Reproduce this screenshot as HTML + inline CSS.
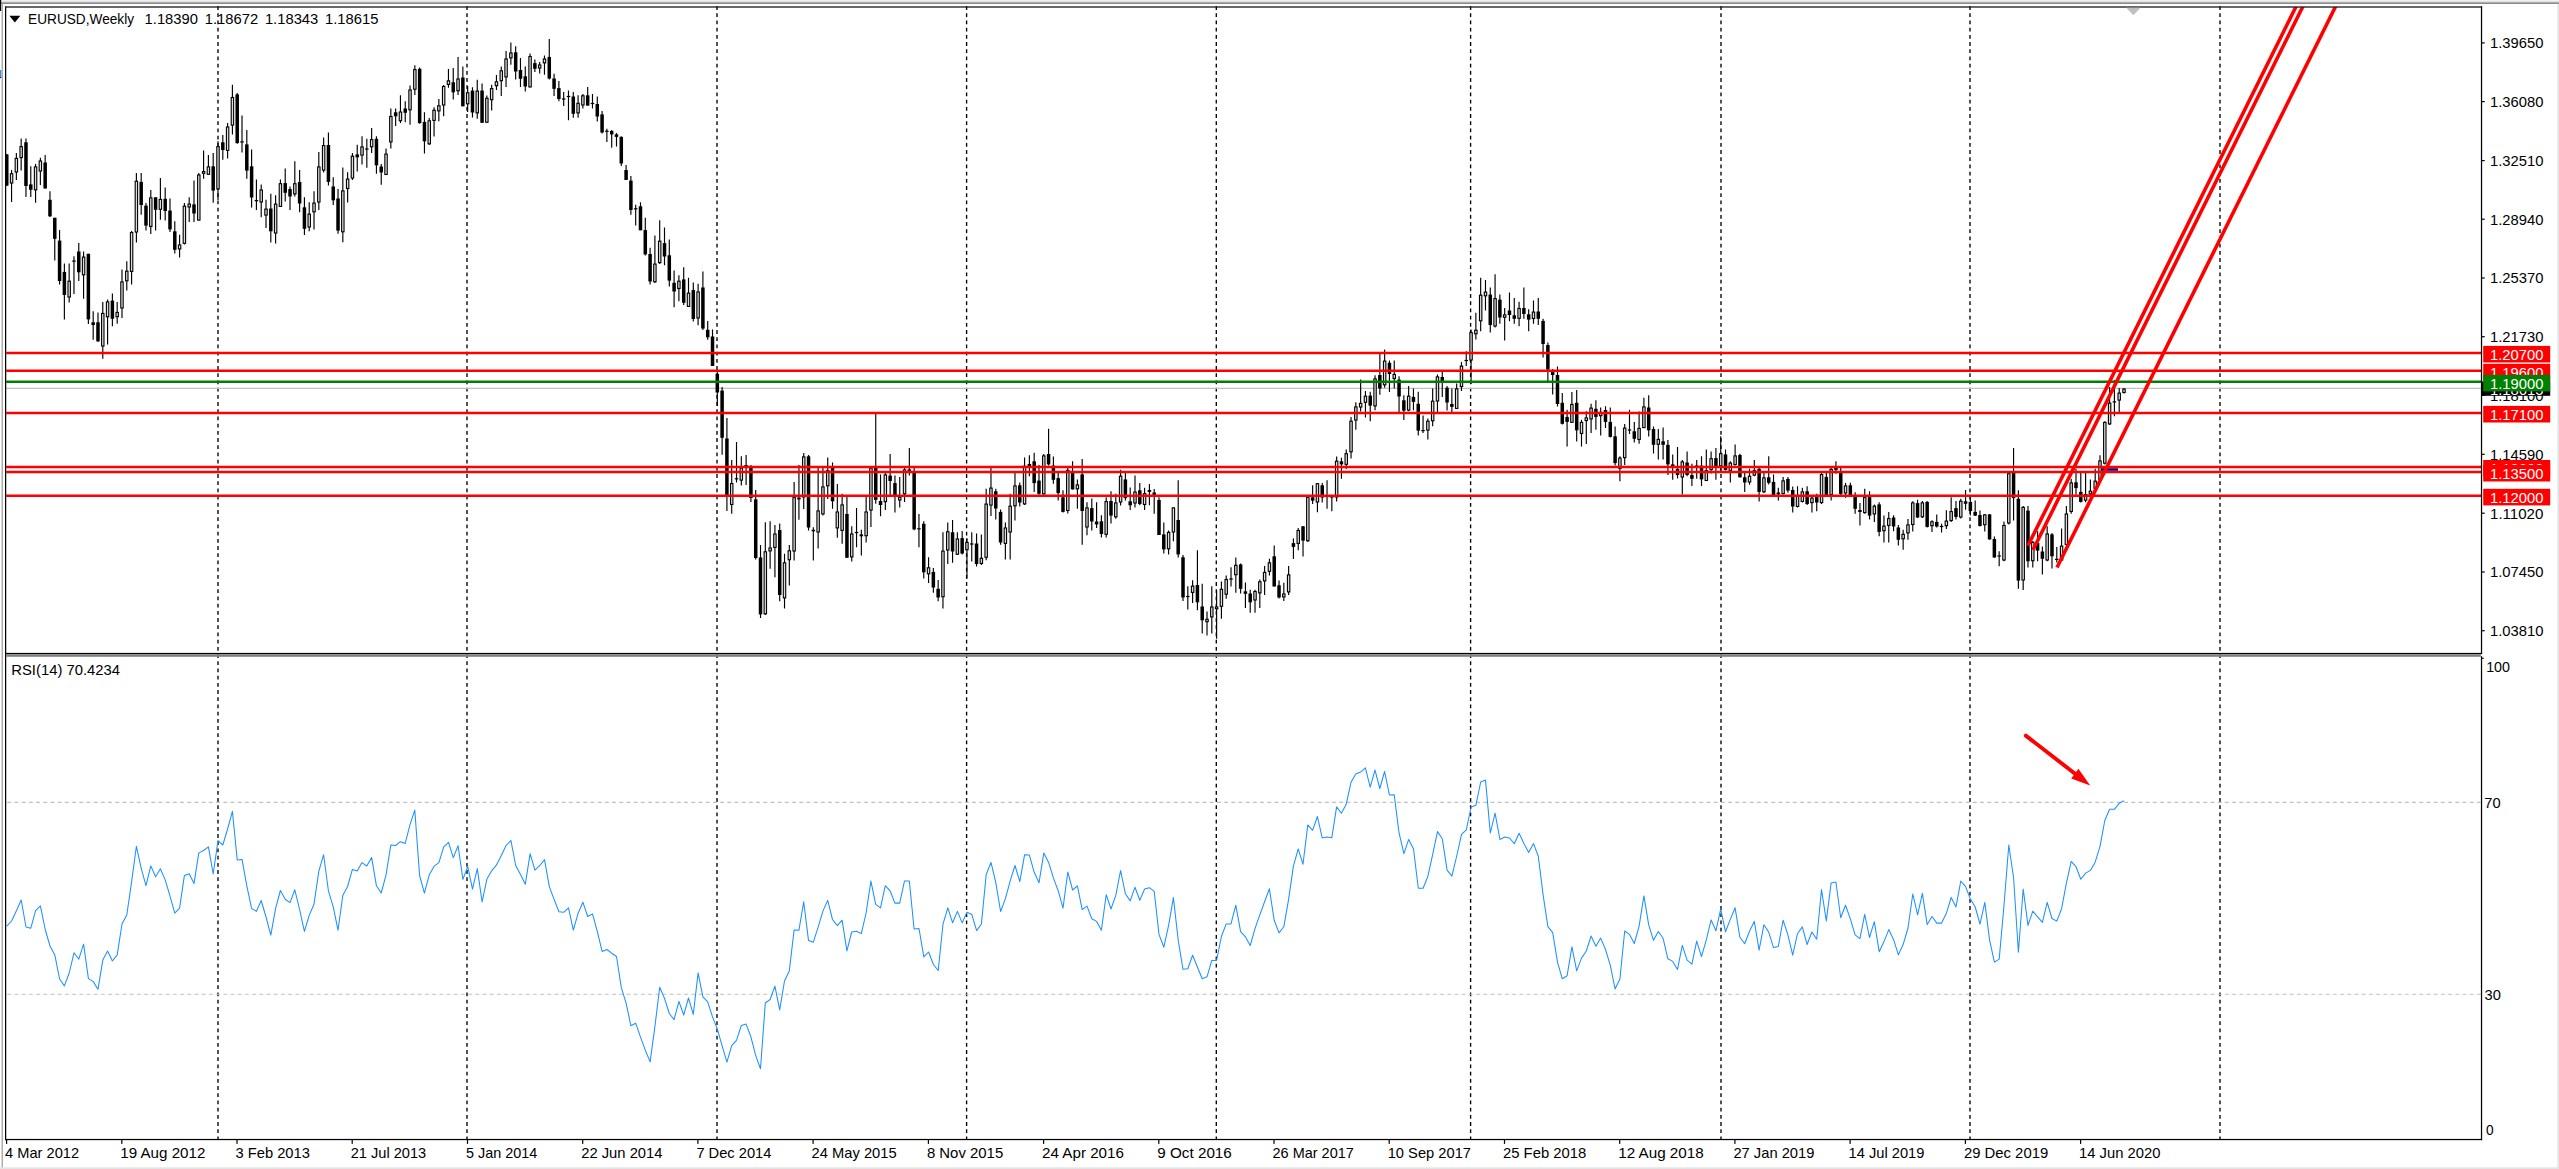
<!DOCTYPE html>
<html><head><meta charset="utf-8"><title>EURUSD Weekly</title>
<style>html,body{margin:0;padding:0;background:#fff;overflow:hidden}body{width:2559px;height:1169px;position:relative;font-family:"Liberation Sans",sans-serif}</style>
</head><body>
<svg width="2559" height="1169" viewBox="0 0 2559 1169" style="position:absolute;left:0;top:0;display:block">
<rect x="0" y="0" width="2559" height="1169" fill="#ffffff"/>
<rect x="0" y="0" width="2559" height="1.7" fill="#f0f0f0"/>
<rect x="0" y="1.7" width="2559" height="1" fill="#b4b4b4"/>
<rect x="0" y="2.7" width="2559" height="1.1" fill="#6e6e6e"/>
<rect x="0" y="0" width="1.2" height="11" fill="#000"/>
<rect x="1.6" y="3.8" width="1.2" height="1165" fill="#9a9a9a"/>
<rect x="0" y="1167.3" width="2559" height="1.7" fill="#e4e4e4"/>
<rect x="2557.3" y="3.8" width="1.7" height="1165.2" fill="#e4e4e4"/>
<line x1="218" y1="6.1" x2="218" y2="1139.0" stroke="#000" stroke-width="1.35" stroke-dasharray="3.8 3.4"/>
<line x1="467" y1="6.1" x2="467" y2="1139.0" stroke="#000" stroke-width="1.35" stroke-dasharray="3.8 3.4"/>
<line x1="717" y1="6.1" x2="717" y2="1139.0" stroke="#000" stroke-width="1.35" stroke-dasharray="3.8 3.4"/>
<line x1="966.6" y1="6.1" x2="966.6" y2="1139.0" stroke="#000" stroke-width="1.35" stroke-dasharray="3.8 3.4"/>
<line x1="1216.3" y1="6.1" x2="1216.3" y2="1139.0" stroke="#000" stroke-width="1.35" stroke-dasharray="3.8 3.4"/>
<line x1="1470.6" y1="6.1" x2="1470.6" y2="1139.0" stroke="#000" stroke-width="1.35" stroke-dasharray="3.8 3.4"/>
<line x1="1721" y1="6.1" x2="1721" y2="1139.0" stroke="#000" stroke-width="1.35" stroke-dasharray="3.8 3.4"/>
<line x1="1970" y1="6.1" x2="1970" y2="1139.0" stroke="#000" stroke-width="1.35" stroke-dasharray="3.8 3.4"/>
<line x1="2220" y1="6.1" x2="2220" y2="1139.0" stroke="#000" stroke-width="1.35" stroke-dasharray="3.8 3.4"/>
<line x1="7.3" y1="802.4" x2="2480.5" y2="802.4" stroke="#c0c0c0" stroke-width="1.1" stroke-dasharray="3.9 3.3"/>
<line x1="7.3" y1="994.3" x2="2480.5" y2="994.3" stroke="#c0c0c0" stroke-width="1.1" stroke-dasharray="3.9 3.3"/>
<line x1="6.199999999999999" y1="388.4" x2="2481.5" y2="388.4" stroke="#c0c0c0" stroke-width="1.2"/>
<path d="M6.76 154.0V186.0M11.56 170.0V201.9M16.36 153.1V180.0M21.16 138.5V170.6M25.96 138.5V196.9M30.77 166.3V196.9M35.57 164.0V202.8M40.37 157.8V185.0M45.17 155.0V188.5M49.97 191.3V216.9M54.77 217.8V260.6M59.57 230.0V284.4M64.37 263.5V319.4M69.17 263.5V302.5M73.97 256.3V294.0M78.78 243.1V281.0M83.58 251.5V298.8M88.38 253.8V324.0M93.18 311.3V339.8M97.98 312.5V341.9M102.78 301.9V358.8M107.58 299.4V344.4M112.38 293.5V326.3M117.18 301.9V323.8M121.98 269.4V318.1M126.79 261.3V290.6M131.59 231.0V284.4M136.39 173.1V242.5M141.19 173.1V214.8M145.99 203.1V230.6M150.79 190.0V234.0M155.59 197.3V230.6M160.39 178.1V219.8M165.19 187.5V220.6M169.99 198.5V231.9M174.79 221.3V253.5M179.60 234.8V257.5M184.40 203.1V244.4M189.20 197.3V221.9M194.00 180.6V221.9M198.80 173.1V220.6M203.60 150.6V178.8M208.40 155.0V175.0M213.20 153.1V202.8M218.00 141.3V200.0M222.81 135.0V159.8M227.61 123.1V158.5M232.41 84.8V134.4M237.21 93.1V143.8M242.01 115.6V152.5M246.81 130.0V178.8M251.61 149.4V207.5M256.41 179.4V210.0M261.21 184.4V217.3M266.01 199.8V228.1M270.81 193.8V242.5M275.62 195.3V243.5M280.42 179.4V207.0M285.22 168.5V201.5M290.02 186.5V210.0M294.82 161.3V196.5M299.62 170.0V212.3M304.42 197.3V235.0M309.22 202.3V231.3M314.02 191.3V229.4M318.82 151.9V210.0M323.63 137.5V172.5M328.43 132.5V185.6M333.23 177.3V205.0M338.03 189.0V233.8M342.83 167.5V242.3M347.63 172.3V202.5M352.43 153.1V180.0M357.23 144.8V171.5M362.03 136.3V164.4M366.83 138.8V167.8M371.64 128.1V153.1M376.44 136.3V173.8M381.24 164.0V184.8M386.04 148.5V175.0M390.84 108.5V148.5M395.64 108.5V126.0M400.44 95.3V123.1M405.24 101.3V122.3M410.04 85.6V124.8M414.85 65.3V95.0M419.65 67.5V123.8M424.45 112.3V153.5M429.25 118.1V145.0M434.05 107.3V136.5M438.85 99.0V121.3M443.65 85.0V116.3M448.45 69.1V87.8M453.25 67.9V99.4M458.05 56.9V95.0M462.86 66.5V106.3M467.66 86.0V111.9M472.46 87.3V117.5M477.26 79.8V118.8M482.06 83.5V123.1M486.86 95.6V123.1M491.66 84.8V110.6M496.46 75.0V90.0M501.26 66.5V96.0M506.06 51.0V86.9M510.87 42.5V64.8M515.67 46.3V79.4M520.47 58.1V86.9M525.27 66.5V91.5M530.07 53.5V87.5M534.87 59.4V71.9M539.67 61.9V73.5M544.47 55.6V74.8M549.27 39.0V79.4M554.07 73.8V96.0M558.88 81.0V101.3M563.68 91.9V106.0M568.48 90.6V120.3M573.28 91.9V117.8M578.08 95.3V117.8M582.88 94.0V108.5M587.68 86.9V105.6M592.48 94.0V108.5M597.28 96.5V121.5M602.08 111.0V133.5M606.88 128.8V141.9M611.69 130.0V147.8M616.49 133.1V146.5M621.29 136.3V166.0M626.09 165.0V180.0M630.89 176.0V214.8M635.69 204.8V225.6M640.49 202.3V230.3M645.29 217.8V255.6M650.09 247.8V284.4M654.89 235.6V283.1M659.70 220.3V264.0M664.50 227.5V265.3M669.30 239.4V286.5M674.10 270.6V307.3M678.90 275.3V301.3M683.70 267.3V305.0M688.50 277.8V306.9M693.30 282.5V321.5M698.10 283.8V325.3M702.90 271.5V330.0M707.71 321.0V339.8M712.51 329.4V366.0M717.31 372.0V406.0M722.11 386.9V454.8M726.91 418.0V511.0M731.71 460.0V513.8M736.51 441.9V482.5M741.31 456.3V485.6M746.11 455.0V485.0M750.91 465.0V501.9M755.72 490.0V559.4M760.52 545.0V618.0M765.32 522.3V615.0M770.12 521.3V568.8M774.92 525.0V577.3M779.72 523.5V601.3M784.52 553.8V608.5M789.32 545.0V585.6M794.12 481.9V560.6M798.93 465.0V519.8M803.73 453.1V509.0M808.53 455.0V530.6M813.33 527.3V560.6M818.13 467.5V548.5M822.93 467.5V515.6M827.73 457.5V499.0M832.53 462.5V508.8M837.33 484.0V537.8M842.13 493.8V543.8M846.94 496.9V557.8M851.74 526.3V561.5M856.54 508.1V547.3M861.34 529.8V555.6M866.14 496.3V542.5M870.94 467.5V526.9M875.74 413.8V503.8M880.54 474.4V516.3M885.34 473.1V510.0M890.14 454.0V495.0M894.95 475.6V512.5M899.75 476.9V507.5M904.55 468.1V501.9M909.35 448.1V475.6M914.15 468.1V530.3M918.95 514.0V547.3M923.75 521.3V578.5M928.55 557.3V583.1M933.35 568.1V592.8M938.15 580.0V601.3M942.96 532.3V608.5M947.76 522.5V564.0M952.56 520.0V562.8M957.36 532.3V555.0M962.16 531.0V554.4M966.96 538.1V578.5M971.76 532.3V561.5M976.56 533.5V566.5M981.36 534.4V565.0M986.16 488.8V560.3M990.97 468.1V516.0M995.77 488.8V519.4M1000.57 509.4V544.8M1005.37 522.5V559.4M1010.17 493.8V559.4M1014.97 473.1V520.6M1019.77 482.5V506.5M1024.57 457.5V505.0M1029.37 455.3V476.3M1034.17 452.8V491.9M1038.98 465.0V494.8M1043.78 454.0V494.4M1048.58 428.8V465.6M1053.38 456.5V483.8M1058.18 473.1V500.6M1062.98 490.3V512.5M1067.78 468.1V513.5M1072.58 461.3V489.4M1077.38 479.4V508.8M1082.18 459.0V544.8M1086.99 502.3V535.3M1091.79 498.5V530.6M1096.59 502.3V528.1M1101.39 515.3V537.5M1106.19 497.3V537.5M1110.99 491.3V523.5M1115.79 493.8V518.8M1120.59 469.8V505.6M1125.39 473.1V500.6M1130.19 487.5V510.0M1135.00 475.6V507.5M1139.80 483.1V505.3M1144.60 487.8V510.0M1149.40 484.0V505.3M1154.20 489.0V513.8M1159.00 497.3V535.0M1163.80 522.5V553.5M1168.60 530.6V554.4M1173.40 507.3V541.3M1178.20 480.3V557.5M1183.01 555.0V601.0M1187.81 586.3V609.4M1192.61 580.3V603.0M1197.41 550.3V610.3M1202.21 583.8V633.5M1207.01 611.5V635.6M1211.81 586.3V633.5M1216.61 590.0V638.8M1221.41 581.5V618.8M1226.21 575.6V598.8M1231.02 567.3V586.5M1235.82 557.5V592.8M1240.62 563.5V593.5M1245.42 582.5V608.0M1250.22 589.8V612.8M1255.02 589.8V612.8M1259.82 579.4V608.0M1264.62 566.0V595.0M1269.42 558.8V575.6M1274.22 545.6V586.5M1279.03 580.6V598.5M1283.83 582.8V601.0M1288.63 566.0V595.0M1293.43 538.5V559.0M1298.23 528.0V550.3M1303.03 526.0V556.5M1307.83 496.0V542.0M1312.63 485.3V504.0M1317.43 483.1V512.3M1322.23 483.1V502.5M1327.04 480.3V508.8M1331.84 496.0V511.3M1336.64 456.5V501.5M1341.44 457.8V478.8M1346.24 449.4V469.0M1351.04 416.9V458.5M1355.84 402.3V429.8M1360.64 379.6V411.5M1365.44 390.9V417.5M1370.24 391.8V421.3M1375.05 375.3V410.3M1379.85 353.0V394.8M1384.65 349.6V387.8M1389.45 360.5V392.0M1394.25 360.5V388.4M1399.05 376.3V411.9M1403.85 395.3V420.0M1408.65 385.9V411.3M1413.45 388.4V410.3M1418.25 391.8V435.6M1423.06 415.6V433.1M1427.86 418.5V439.4M1432.66 388.4V426.3M1437.46 374.6V411.9M1442.26 372.0V397.0M1447.06 385.9V410.6M1451.86 388.4V411.9M1456.66 383.4V409.0M1461.46 362.0V391.0M1466.26 351.3V366.0M1471.07 329.6V384.0M1475.87 312.8V339.6M1480.67 277.8V331.3M1485.47 280.0V310.5M1490.27 287.5V332.5M1495.07 274.3V327.5M1499.87 294.6V323.8M1504.67 308.0V340.5M1509.47 292.5V321.3M1514.27 298.0V323.8M1519.08 301.8V326.3M1523.88 287.5V318.8M1528.68 309.3V331.3M1533.48 300.5V323.8M1538.28 298.0V325.0M1543.08 318.8V357.5M1547.88 342.5V380.9M1552.68 369.0V394.6M1557.48 366.5V406.5M1562.28 393.1V424.4M1567.09 409.8V446.5M1571.89 391.9V423.1M1576.69 390.0V441.5M1581.49 419.8V446.5M1586.29 411.3V444.0M1591.09 403.8V433.1M1595.89 400.3V429.8M1600.69 407.5V435.6M1605.49 406.3V428.1M1610.29 407.5V437.5M1615.10 426.5V465.6M1619.90 456.3V481.3M1624.70 424.0V465.0M1629.50 409.8V434.0M1634.30 421.9V442.5M1639.10 411.5V443.8M1643.90 397.8V428.1M1648.70 395.3V436.5M1653.50 426.5V453.5M1658.30 429.0V459.4M1663.11 427.5V459.4M1667.91 440.0V475.0M1672.71 454.4V479.8M1677.51 446.9V478.5M1682.31 460.0V494.4M1687.11 451.5V476.3M1691.91 463.8V486.0M1696.71 460.0V478.8M1701.51 456.3V486.0M1706.31 449.4V481.0M1711.12 451.5V473.5M1715.92 448.1V479.8M1720.72 436.3V471.0M1725.52 449.4V470.6M1730.32 461.3V482.5M1735.12 444.4V465.6M1739.92 453.8V477.5M1744.72 473.1V491.9M1749.52 468.8V484.8M1754.32 460.0V476.3M1759.12 467.5V501.5M1763.93 472.5V493.1M1768.73 456.3V484.4M1773.53 474.4V495.3M1778.33 487.8V500.6M1783.13 476.9V494.4M1787.93 476.9V492.8M1792.73 486.5V512.5M1797.53 486.3V507.5M1802.33 487.8V502.5M1807.13 486.3V505.0M1811.94 496.0V512.5M1816.74 493.8V511.3M1821.54 473.1V504.0M1826.34 473.1V496.3M1831.14 468.1V500.6M1835.94 461.3V473.8M1840.74 468.1V495.0M1845.54 483.1V497.8M1850.34 482.8V496.0M1855.14 492.3V513.8M1859.95 503.1V525.6M1864.75 488.8V513.8M1869.55 491.3V519.4M1874.35 504.4V521.9M1879.15 502.3V536.3M1883.95 515.6V542.5M1888.75 511.9V542.5M1893.55 515.3V531.3M1898.35 525.0V545.6M1903.15 529.8V549.8M1907.96 519.0V539.8M1912.76 501.3V531.5M1917.56 499.8V518.1M1922.36 501.0V518.1M1927.16 501.0V527.5M1931.96 520.3V531.9M1936.76 514.4V527.5M1941.56 523.8V532.5M1946.36 510.3V529.0M1951.16 497.3V521.9M1955.97 501.0V519.4M1960.77 498.8V518.5M1965.57 490.0V509.8M1970.37 497.0V515.6M1975.17 500.6V516.0M1979.97 510.6V526.5M1984.77 514.0V531.5M1989.57 514.0V539.8M1994.37 536.5V557.8M1999.17 551.3V566.3M2003.98 521.5V561.3M2008.78 472.5V524.4M2013.58 448.1V520.6M2018.38 490.3V588.8M2023.18 506.0V590.0M2027.98 506.0V567.5M2032.78 541.0V567.5M2037.58 531.3V561.3M2042.38 546.5V574.4M2047.18 526.3V561.3M2051.99 533.1V568.5M2056.79 546.9V562.5M2061.59 528.5V561.3M2066.39 506.0V545.6M2071.19 478.8V513.8M2075.99 468.8V494.8M2080.79 472.5V502.5M2085.59 473.1V502.3M2090.39 479.4V495.0M2095.20 468.8V489.4M2100.00 455.3V480.6M2104.80 421.3V464.4M2109.60 386.9V425.0M2114.40 380.0V416.3M2119.20 388.1V411.9M2124.00 388.0V393.5" stroke="#000" stroke-width="1.15" fill="none"/>
<rect x="5.01" y="154.4" width="3.5" height="31.2" fill="#000"/>
<rect x="10.36" y="173.7" width="2.40" height="9.3" fill="#dcdcdc" stroke="#000" stroke-width="1.1"/>
<rect x="15.16" y="158.4" width="2.40" height="13.6" fill="#dcdcdc" stroke="#000" stroke-width="1.1"/>
<rect x="19.96" y="146.6" width="2.40" height="11.0" fill="#dcdcdc" stroke="#000" stroke-width="1.1"/>
<rect x="24.21" y="142.3" width="3.5" height="43.7" fill="#000"/>
<rect x="29.02" y="184.4" width="3.5" height="5.4" fill="#000"/>
<rect x="34.37" y="166.9" width="2.40" height="22.9" fill="#dcdcdc" stroke="#000" stroke-width="1.1"/>
<rect x="39.17" y="161.0" width="2.40" height="10.0" fill="#dcdcdc" stroke="#000" stroke-width="1.1"/>
<rect x="43.42" y="162.5" width="3.5" height="26.0" fill="#000"/>
<rect x="48.22" y="199.8" width="3.5" height="16.5" fill="#000"/>
<rect x="53.02" y="217.8" width="3.5" height="21.0" fill="#000"/>
<rect x="57.82" y="240.6" width="3.5" height="40.4" fill="#000"/>
<rect x="62.62" y="271.9" width="3.5" height="23.1" fill="#000"/>
<rect x="67.97" y="281.2" width="2.40" height="15.8" fill="#dcdcdc" stroke="#000" stroke-width="1.1"/>
<rect x="72.22" y="260.5" width="3.5" height="1.2" fill="#000"/>
<rect x="77.03" y="251.5" width="3.5" height="20.8" fill="#000"/>
<rect x="82.38" y="257.1" width="2.40" height="17.7" fill="#dcdcdc" stroke="#000" stroke-width="1.1"/>
<rect x="86.63" y="253.8" width="3.5" height="65.6" fill="#000"/>
<rect x="91.43" y="322.3" width="3.5" height="2.7" fill="#000"/>
<rect x="96.23" y="322.3" width="3.5" height="19.0" fill="#000"/>
<rect x="101.58" y="313.4" width="2.40" height="32.6" fill="#dcdcdc" stroke="#000" stroke-width="1.1"/>
<rect x="106.38" y="301.9" width="2.40" height="14.9" fill="#dcdcdc" stroke="#000" stroke-width="1.1"/>
<rect x="110.63" y="300.6" width="3.5" height="18.2" fill="#000"/>
<rect x="115.98" y="312.4" width="2.40" height="4.3" fill="#dcdcdc" stroke="#000" stroke-width="1.1"/>
<rect x="120.78" y="281.9" width="2.40" height="26.1" fill="#dcdcdc" stroke="#000" stroke-width="1.1"/>
<rect x="125.59" y="271.2" width="2.40" height="9.6" fill="#dcdcdc" stroke="#000" stroke-width="1.1"/>
<rect x="130.39" y="232.5" width="2.40" height="38.9" fill="#dcdcdc" stroke="#000" stroke-width="1.1"/>
<rect x="135.19" y="181.2" width="2.40" height="50.8" fill="#dcdcdc" stroke="#000" stroke-width="1.1"/>
<rect x="139.44" y="181.9" width="3.5" height="23.1" fill="#000"/>
<rect x="144.24" y="205.6" width="3.5" height="20.0" fill="#000"/>
<rect x="149.59" y="197.9" width="2.40" height="28.5" fill="#dcdcdc" stroke="#000" stroke-width="1.1"/>
<rect x="153.84" y="197.3" width="3.5" height="12.5" fill="#000"/>
<rect x="159.19" y="199.4" width="2.40" height="9.9" fill="#dcdcdc" stroke="#000" stroke-width="1.1"/>
<rect x="163.44" y="198.8" width="3.5" height="12.2" fill="#000"/>
<rect x="168.24" y="210.6" width="3.5" height="18.8" fill="#000"/>
<rect x="173.04" y="231.3" width="3.5" height="18.5" fill="#000"/>
<rect x="178.40" y="245.0" width="2.40" height="3.9" fill="#dcdcdc" stroke="#000" stroke-width="1.1"/>
<rect x="183.20" y="206.2" width="2.40" height="37.1" fill="#dcdcdc" stroke="#000" stroke-width="1.1"/>
<rect x="188.00" y="204.1" width="2.40" height="2.9" fill="#dcdcdc" stroke="#000" stroke-width="1.1"/>
<rect x="192.25" y="204.4" width="3.5" height="9.1" fill="#000"/>
<rect x="197.60" y="175.0" width="2.40" height="45.1" fill="#dcdcdc" stroke="#000" stroke-width="1.1"/>
<rect x="202.40" y="171.6" width="2.40" height="1.7" fill="#dcdcdc" stroke="#000" stroke-width="1.1"/>
<rect x="207.20" y="166.9" width="2.40" height="7.4" fill="#dcdcdc" stroke="#000" stroke-width="1.1"/>
<rect x="211.45" y="166.3" width="3.5" height="24.3" fill="#000"/>
<rect x="216.80" y="146.6" width="2.40" height="42.3" fill="#dcdcdc" stroke="#000" stroke-width="1.1"/>
<rect x="221.06" y="142.3" width="3.5" height="7.7" fill="#000"/>
<rect x="226.41" y="127.0" width="2.40" height="23.4" fill="#dcdcdc" stroke="#000" stroke-width="1.1"/>
<rect x="231.21" y="97.5" width="2.40" height="27.6" fill="#dcdcdc" stroke="#000" stroke-width="1.1"/>
<rect x="235.46" y="94.4" width="3.5" height="48.7" fill="#000"/>
<rect x="240.26" y="141.3" width="3.5" height="1.2" fill="#000"/>
<rect x="245.06" y="144.4" width="3.5" height="26.2" fill="#000"/>
<rect x="249.86" y="166.3" width="3.5" height="31.2" fill="#000"/>
<rect x="254.66" y="200.0" width="3.5" height="1.3" fill="#000"/>
<rect x="260.01" y="190.0" width="2.40" height="12.0" fill="#dcdcdc" stroke="#000" stroke-width="1.1"/>
<rect x="264.81" y="209.1" width="2.40" height="6.0" fill="#dcdcdc" stroke="#000" stroke-width="1.1"/>
<rect x="269.06" y="208.5" width="3.5" height="22.8" fill="#000"/>
<rect x="274.42" y="204.1" width="2.40" height="28.9" fill="#dcdcdc" stroke="#000" stroke-width="1.1"/>
<rect x="279.22" y="183.7" width="2.40" height="22.7" fill="#dcdcdc" stroke="#000" stroke-width="1.1"/>
<rect x="283.47" y="183.1" width="3.5" height="9.7" fill="#000"/>
<rect x="288.27" y="189.0" width="3.5" height="7.5" fill="#000"/>
<rect x="293.62" y="183.7" width="2.40" height="10.2" fill="#dcdcdc" stroke="#000" stroke-width="1.1"/>
<rect x="297.87" y="181.9" width="3.5" height="21.6" fill="#000"/>
<rect x="302.67" y="207.3" width="3.5" height="21.5" fill="#000"/>
<rect x="308.02" y="214.1" width="2.40" height="12.9" fill="#dcdcdc" stroke="#000" stroke-width="1.1"/>
<rect x="312.82" y="203.1" width="2.40" height="8.7" fill="#dcdcdc" stroke="#000" stroke-width="1.1"/>
<rect x="317.62" y="166.9" width="2.40" height="35.1" fill="#dcdcdc" stroke="#000" stroke-width="1.1"/>
<rect x="322.43" y="145.6" width="2.40" height="24.5" fill="#dcdcdc" stroke="#000" stroke-width="1.1"/>
<rect x="326.68" y="145.0" width="3.5" height="36.9" fill="#000"/>
<rect x="331.48" y="186.5" width="3.5" height="13.8" fill="#000"/>
<rect x="336.28" y="198.5" width="3.5" height="32.1" fill="#000"/>
<rect x="341.63" y="190.9" width="2.40" height="40.9" fill="#dcdcdc" stroke="#000" stroke-width="1.1"/>
<rect x="346.43" y="179.1" width="2.40" height="9.4" fill="#dcdcdc" stroke="#000" stroke-width="1.1"/>
<rect x="351.23" y="156.2" width="2.40" height="21.8" fill="#dcdcdc" stroke="#000" stroke-width="1.1"/>
<rect x="355.48" y="154.4" width="3.5" height="2.9" fill="#000"/>
<rect x="360.83" y="146.9" width="2.40" height="8.2" fill="#dcdcdc" stroke="#000" stroke-width="1.1"/>
<rect x="365.08" y="148.4" width="3.5" height="1.2" fill="#000"/>
<rect x="370.44" y="139.6" width="2.40" height="7.2" fill="#dcdcdc" stroke="#000" stroke-width="1.1"/>
<rect x="374.69" y="138.8" width="3.5" height="26.5" fill="#000"/>
<rect x="379.49" y="166.5" width="3.5" height="6.0" fill="#000"/>
<rect x="384.84" y="154.1" width="2.40" height="20.4" fill="#dcdcdc" stroke="#000" stroke-width="1.1"/>
<rect x="389.64" y="116.5" width="2.40" height="25.4" fill="#dcdcdc" stroke="#000" stroke-width="1.1"/>
<rect x="393.89" y="112.3" width="3.5" height="4.0" fill="#000"/>
<rect x="399.24" y="112.0" width="2.40" height="8.7" fill="#dcdcdc" stroke="#000" stroke-width="1.1"/>
<rect x="403.49" y="108.5" width="3.5" height="4.3" fill="#000"/>
<rect x="408.84" y="90.0" width="2.40" height="19.8" fill="#dcdcdc" stroke="#000" stroke-width="1.1"/>
<rect x="413.65" y="69.6" width="2.40" height="19.6" fill="#dcdcdc" stroke="#000" stroke-width="1.1"/>
<rect x="417.90" y="68.8" width="3.5" height="54.3" fill="#000"/>
<rect x="422.70" y="121.9" width="3.5" height="19.4" fill="#000"/>
<rect x="428.05" y="120.8" width="2.40" height="23.0" fill="#dcdcdc" stroke="#000" stroke-width="1.1"/>
<rect x="432.85" y="110.3" width="2.40" height="10.1" fill="#dcdcdc" stroke="#000" stroke-width="1.1"/>
<rect x="437.65" y="105.8" width="2.40" height="5.1" fill="#dcdcdc" stroke="#000" stroke-width="1.1"/>
<rect x="442.45" y="86.5" width="2.40" height="18.5" fill="#dcdcdc" stroke="#000" stroke-width="1.1"/>
<rect x="447.25" y="80.8" width="2.40" height="3.6" fill="#dcdcdc" stroke="#000" stroke-width="1.1"/>
<rect x="451.50" y="82.3" width="3.5" height="10.0" fill="#000"/>
<rect x="456.85" y="79.0" width="2.40" height="11.7" fill="#dcdcdc" stroke="#000" stroke-width="1.1"/>
<rect x="461.11" y="77.5" width="3.5" height="28.8" fill="#000"/>
<rect x="466.46" y="92.8" width="2.40" height="11.0" fill="#dcdcdc" stroke="#000" stroke-width="1.1"/>
<rect x="470.71" y="90.6" width="3.5" height="21.9" fill="#000"/>
<rect x="476.06" y="91.1" width="2.40" height="21.8" fill="#dcdcdc" stroke="#000" stroke-width="1.1"/>
<rect x="480.31" y="90.6" width="3.5" height="32.2" fill="#000"/>
<rect x="485.66" y="98.3" width="2.40" height="23.9" fill="#dcdcdc" stroke="#000" stroke-width="1.1"/>
<rect x="490.46" y="88.6" width="2.40" height="11.1" fill="#dcdcdc" stroke="#000" stroke-width="1.1"/>
<rect x="495.26" y="81.8" width="2.40" height="3.9" fill="#dcdcdc" stroke="#000" stroke-width="1.1"/>
<rect x="500.06" y="70.8" width="2.40" height="9.9" fill="#dcdcdc" stroke="#000" stroke-width="1.1"/>
<rect x="504.86" y="59.0" width="2.40" height="17.9" fill="#dcdcdc" stroke="#000" stroke-width="1.1"/>
<rect x="509.67" y="53.0" width="2.40" height="4.9" fill="#dcdcdc" stroke="#000" stroke-width="1.1"/>
<rect x="513.92" y="52.3" width="3.5" height="19.2" fill="#000"/>
<rect x="518.72" y="70.0" width="3.5" height="8.8" fill="#000"/>
<rect x="523.52" y="76.3" width="3.5" height="10.2" fill="#000"/>
<rect x="528.87" y="56.5" width="2.40" height="30.4" fill="#dcdcdc" stroke="#000" stroke-width="1.1"/>
<rect x="533.12" y="63.1" width="3.5" height="5.7" fill="#000"/>
<rect x="538.47" y="65.0" width="2.40" height="3.0" fill="#dcdcdc" stroke="#000" stroke-width="1.1"/>
<rect x="543.27" y="59.0" width="2.40" height="3.9" fill="#dcdcdc" stroke="#000" stroke-width="1.1"/>
<rect x="547.52" y="56.9" width="3.5" height="21.6" fill="#000"/>
<rect x="552.32" y="78.5" width="3.5" height="10.3" fill="#000"/>
<rect x="557.12" y="88.1" width="3.5" height="10.9" fill="#000"/>
<rect x="561.93" y="98.4" width="3.5" height="1.2" fill="#000"/>
<rect x="566.73" y="95.9" width="3.5" height="1.2" fill="#000"/>
<rect x="571.53" y="96.5" width="3.5" height="17.3" fill="#000"/>
<rect x="576.88" y="103.3" width="2.40" height="9.6" fill="#dcdcdc" stroke="#000" stroke-width="1.1"/>
<rect x="581.68" y="95.8" width="2.40" height="9.2" fill="#dcdcdc" stroke="#000" stroke-width="1.1"/>
<rect x="585.93" y="95.3" width="3.5" height="10.3" fill="#000"/>
<rect x="590.73" y="102.9" width="3.5" height="1.2" fill="#000"/>
<rect x="595.53" y="104.0" width="3.5" height="12.5" fill="#000"/>
<rect x="600.33" y="114.4" width="3.5" height="18.1" fill="#000"/>
<rect x="605.13" y="130.7" width="3.5" height="1.2" fill="#000"/>
<rect x="609.94" y="131.0" width="3.5" height="3.4" fill="#000"/>
<rect x="614.74" y="134.4" width="3.5" height="2.5" fill="#000"/>
<rect x="619.54" y="136.9" width="3.5" height="26.6" fill="#000"/>
<rect x="624.34" y="170.0" width="3.5" height="10.0" fill="#000"/>
<rect x="629.14" y="180.6" width="3.5" height="29.4" fill="#000"/>
<rect x="633.94" y="208.2" width="3.5" height="1.2" fill="#000"/>
<rect x="638.74" y="206.3" width="3.5" height="24.0" fill="#000"/>
<rect x="643.54" y="230.0" width="3.5" height="24.4" fill="#000"/>
<rect x="648.34" y="254.0" width="3.5" height="27.5" fill="#000"/>
<rect x="653.69" y="264.1" width="2.40" height="17.7" fill="#dcdcdc" stroke="#000" stroke-width="1.1"/>
<rect x="658.50" y="241.2" width="2.40" height="21.4" fill="#dcdcdc" stroke="#000" stroke-width="1.1"/>
<rect x="662.75" y="243.1" width="3.5" height="13.4" fill="#000"/>
<rect x="667.55" y="255.3" width="3.5" height="25.3" fill="#000"/>
<rect x="672.35" y="282.8" width="3.5" height="8.7" fill="#000"/>
<rect x="677.70" y="281.2" width="2.40" height="7.3" fill="#dcdcdc" stroke="#000" stroke-width="1.1"/>
<rect x="681.95" y="279.4" width="3.5" height="23.4" fill="#000"/>
<rect x="687.30" y="293.1" width="2.40" height="13.3" fill="#dcdcdc" stroke="#000" stroke-width="1.1"/>
<rect x="691.55" y="290.0" width="3.5" height="29.0" fill="#000"/>
<rect x="696.90" y="291.9" width="2.40" height="26.1" fill="#dcdcdc" stroke="#000" stroke-width="1.1"/>
<rect x="701.15" y="287.5" width="3.5" height="41.0" fill="#000"/>
<rect x="705.96" y="329.8" width="3.5" height="7.5" fill="#000"/>
<rect x="710.76" y="336.5" width="3.5" height="29.5" fill="#000"/>
<rect x="715.56" y="373.8" width="3.5" height="18.7" fill="#000"/>
<rect x="720.36" y="390.6" width="3.5" height="47.2" fill="#000"/>
<rect x="725.16" y="438.5" width="3.5" height="57.5" fill="#000"/>
<rect x="730.51" y="483.6" width="2.40" height="20.9" fill="#dcdcdc" stroke="#000" stroke-width="1.1"/>
<rect x="734.76" y="478.2" width="3.5" height="1.2" fill="#000"/>
<rect x="740.11" y="468.1" width="2.40" height="12.0" fill="#dcdcdc" stroke="#000" stroke-width="1.1"/>
<rect x="744.36" y="465.0" width="3.5" height="1.5" fill="#000"/>
<rect x="749.16" y="466.3" width="3.5" height="31.7" fill="#000"/>
<rect x="753.97" y="499.4" width="3.5" height="58.6" fill="#000"/>
<rect x="758.77" y="557.5" width="3.5" height="56.9" fill="#000"/>
<rect x="764.12" y="551.8" width="2.40" height="62.0" fill="#dcdcdc" stroke="#000" stroke-width="1.1"/>
<rect x="768.92" y="548.0" width="2.40" height="2.9" fill="#dcdcdc" stroke="#000" stroke-width="1.1"/>
<rect x="773.72" y="534.0" width="2.40" height="13.4" fill="#dcdcdc" stroke="#000" stroke-width="1.1"/>
<rect x="777.97" y="530.0" width="3.5" height="65.0" fill="#000"/>
<rect x="783.32" y="562.8" width="2.40" height="35.1" fill="#dcdcdc" stroke="#000" stroke-width="1.1"/>
<rect x="788.12" y="550.8" width="2.40" height="8.9" fill="#dcdcdc" stroke="#000" stroke-width="1.1"/>
<rect x="792.92" y="497.6" width="2.40" height="53.4" fill="#dcdcdc" stroke="#000" stroke-width="1.1"/>
<rect x="797.73" y="498.1" width="2.40" height="0.8" fill="#dcdcdc" stroke="#000" stroke-width="1.1"/>
<rect x="802.53" y="456.9" width="2.40" height="40.1" fill="#dcdcdc" stroke="#000" stroke-width="1.1"/>
<rect x="806.78" y="456.3" width="3.5" height="71.2" fill="#000"/>
<rect x="811.58" y="529.8" width="3.5" height="1.5" fill="#000"/>
<rect x="816.93" y="510.9" width="2.40" height="21.1" fill="#dcdcdc" stroke="#000" stroke-width="1.1"/>
<rect x="821.73" y="486.9" width="2.40" height="27.0" fill="#dcdcdc" stroke="#000" stroke-width="1.1"/>
<rect x="826.53" y="470.6" width="2.40" height="15.2" fill="#dcdcdc" stroke="#000" stroke-width="1.1"/>
<rect x="830.78" y="467.5" width="3.5" height="33.8" fill="#000"/>
<rect x="836.13" y="512.0" width="2.40" height="15.9" fill="#dcdcdc" stroke="#000" stroke-width="1.1"/>
<rect x="840.93" y="504.9" width="2.40" height="25.5" fill="#dcdcdc" stroke="#000" stroke-width="1.1"/>
<rect x="845.19" y="514.0" width="3.5" height="43.8" fill="#000"/>
<rect x="850.54" y="534.0" width="2.40" height="22.9" fill="#dcdcdc" stroke="#000" stroke-width="1.1"/>
<rect x="854.79" y="531.9" width="3.5" height="1.2" fill="#000"/>
<rect x="859.59" y="534.4" width="3.5" height="1.9" fill="#000"/>
<rect x="864.94" y="512.0" width="2.40" height="23.7" fill="#dcdcdc" stroke="#000" stroke-width="1.1"/>
<rect x="869.74" y="468.1" width="2.40" height="42.0" fill="#dcdcdc" stroke="#000" stroke-width="1.1"/>
<rect x="873.99" y="467.5" width="3.5" height="32.3" fill="#000"/>
<rect x="878.79" y="501.0" width="3.5" height="4.0" fill="#000"/>
<rect x="884.14" y="474.9" width="2.40" height="26.8" fill="#dcdcdc" stroke="#000" stroke-width="1.1"/>
<rect x="888.39" y="475.6" width="3.5" height="5.4" fill="#000"/>
<rect x="893.20" y="483.1" width="3.5" height="13.8" fill="#000"/>
<rect x="898.55" y="497.4" width="2.40" height="2.6" fill="#dcdcdc" stroke="#000" stroke-width="1.1"/>
<rect x="903.35" y="469.9" width="2.40" height="23.9" fill="#dcdcdc" stroke="#000" stroke-width="1.1"/>
<rect x="908.15" y="469.9" width="2.40" height="0.8" fill="#dcdcdc" stroke="#000" stroke-width="1.1"/>
<rect x="912.40" y="471.9" width="3.5" height="57.5" fill="#000"/>
<rect x="917.20" y="528.2" width="3.5" height="1.2" fill="#000"/>
<rect x="922.00" y="523.8" width="3.5" height="48.5" fill="#000"/>
<rect x="927.35" y="567.8" width="2.40" height="6.0" fill="#dcdcdc" stroke="#000" stroke-width="1.1"/>
<rect x="931.60" y="571.9" width="3.5" height="15.6" fill="#000"/>
<rect x="936.40" y="588.8" width="3.5" height="8.7" fill="#000"/>
<rect x="941.75" y="551.1" width="2.40" height="45.6" fill="#dcdcdc" stroke="#000" stroke-width="1.1"/>
<rect x="946.56" y="531.8" width="2.40" height="18.2" fill="#dcdcdc" stroke="#000" stroke-width="1.1"/>
<rect x="950.81" y="532.3" width="3.5" height="19.2" fill="#000"/>
<rect x="956.16" y="539.0" width="2.40" height="15.2" fill="#dcdcdc" stroke="#000" stroke-width="1.1"/>
<rect x="960.41" y="538.1" width="3.5" height="15.4" fill="#000"/>
<rect x="965.76" y="542.4" width="2.40" height="7.3" fill="#dcdcdc" stroke="#000" stroke-width="1.1"/>
<rect x="970.01" y="543.4" width="3.5" height="1.2" fill="#000"/>
<rect x="974.81" y="543.5" width="3.5" height="20.5" fill="#000"/>
<rect x="980.16" y="558.3" width="2.40" height="5.1" fill="#dcdcdc" stroke="#000" stroke-width="1.1"/>
<rect x="984.96" y="504.1" width="2.40" height="53.2" fill="#dcdcdc" stroke="#000" stroke-width="1.1"/>
<rect x="989.76" y="488.1" width="2.40" height="17.0" fill="#dcdcdc" stroke="#000" stroke-width="1.1"/>
<rect x="994.02" y="491.3" width="3.5" height="17.2" fill="#000"/>
<rect x="998.82" y="511.9" width="3.5" height="30.6" fill="#000"/>
<rect x="1004.17" y="528.0" width="2.40" height="15.4" fill="#dcdcdc" stroke="#000" stroke-width="1.1"/>
<rect x="1008.97" y="506.2" width="2.40" height="25.8" fill="#dcdcdc" stroke="#000" stroke-width="1.1"/>
<rect x="1013.77" y="485.9" width="2.40" height="19.9" fill="#dcdcdc" stroke="#000" stroke-width="1.1"/>
<rect x="1018.02" y="485.3" width="3.5" height="17.2" fill="#000"/>
<rect x="1023.37" y="466.2" width="2.40" height="37.7" fill="#dcdcdc" stroke="#000" stroke-width="1.1"/>
<rect x="1027.62" y="464.0" width="3.5" height="2.0" fill="#000"/>
<rect x="1032.42" y="461.3" width="3.5" height="21.8" fill="#000"/>
<rect x="1037.23" y="480.6" width="3.5" height="13.2" fill="#000"/>
<rect x="1042.58" y="455.9" width="2.40" height="38.0" fill="#dcdcdc" stroke="#000" stroke-width="1.1"/>
<rect x="1046.83" y="454.0" width="3.5" height="10.4" fill="#000"/>
<rect x="1051.63" y="465.6" width="3.5" height="14.2" fill="#000"/>
<rect x="1056.43" y="478.1" width="3.5" height="15.0" fill="#000"/>
<rect x="1061.23" y="497.3" width="3.5" height="14.6" fill="#000"/>
<rect x="1066.58" y="470.4" width="2.40" height="40.1" fill="#dcdcdc" stroke="#000" stroke-width="1.1"/>
<rect x="1070.83" y="472.5" width="3.5" height="16.9" fill="#000"/>
<rect x="1076.18" y="484.9" width="2.40" height="3.9" fill="#dcdcdc" stroke="#000" stroke-width="1.1"/>
<rect x="1080.43" y="474.4" width="3.5" height="36.6" fill="#000"/>
<rect x="1085.79" y="507.9" width="2.40" height="19.1" fill="#dcdcdc" stroke="#000" stroke-width="1.1"/>
<rect x="1090.04" y="508.1" width="3.5" height="13.4" fill="#000"/>
<rect x="1094.84" y="521.5" width="3.5" height="2.9" fill="#000"/>
<rect x="1099.64" y="521.3" width="3.5" height="12.7" fill="#000"/>
<rect x="1104.99" y="501.6" width="2.40" height="32.7" fill="#dcdcdc" stroke="#000" stroke-width="1.1"/>
<rect x="1109.24" y="501.0" width="3.5" height="14.6" fill="#000"/>
<rect x="1114.59" y="502.9" width="2.40" height="13.9" fill="#dcdcdc" stroke="#000" stroke-width="1.1"/>
<rect x="1119.39" y="476.2" width="2.40" height="25.8" fill="#dcdcdc" stroke="#000" stroke-width="1.1"/>
<rect x="1123.64" y="479.4" width="3.5" height="18.7" fill="#000"/>
<rect x="1128.44" y="501.3" width="3.5" height="4.0" fill="#000"/>
<rect x="1133.80" y="492.1" width="2.40" height="10.9" fill="#dcdcdc" stroke="#000" stroke-width="1.1"/>
<rect x="1138.05" y="490.3" width="3.5" height="13.7" fill="#000"/>
<rect x="1143.40" y="493.7" width="2.40" height="10.8" fill="#dcdcdc" stroke="#000" stroke-width="1.1"/>
<rect x="1147.65" y="490.0" width="3.5" height="1.9" fill="#000"/>
<rect x="1152.45" y="492.5" width="3.5" height="2.3" fill="#000"/>
<rect x="1157.25" y="500.0" width="3.5" height="35.0" fill="#000"/>
<rect x="1162.05" y="534.4" width="3.5" height="15.0" fill="#000"/>
<rect x="1167.40" y="532.4" width="2.40" height="16.4" fill="#dcdcdc" stroke="#000" stroke-width="1.1"/>
<rect x="1172.20" y="507.9" width="2.40" height="24.1" fill="#dcdcdc" stroke="#000" stroke-width="1.1"/>
<rect x="1176.45" y="520.0" width="3.5" height="34.4" fill="#000"/>
<rect x="1181.26" y="557.3" width="3.5" height="40.2" fill="#000"/>
<rect x="1186.06" y="595.9" width="3.5" height="1.2" fill="#000"/>
<rect x="1191.41" y="586.1" width="2.40" height="6.3" fill="#dcdcdc" stroke="#000" stroke-width="1.1"/>
<rect x="1195.66" y="585.0" width="3.5" height="17.3" fill="#000"/>
<rect x="1200.46" y="606.5" width="3.5" height="13.8" fill="#000"/>
<rect x="1205.81" y="619.3" width="2.40" height="2.4" fill="#dcdcdc" stroke="#000" stroke-width="1.1"/>
<rect x="1210.61" y="607.0" width="2.40" height="9.9" fill="#dcdcdc" stroke="#000" stroke-width="1.1"/>
<rect x="1215.41" y="607.0" width="2.40" height="1.8" fill="#dcdcdc" stroke="#000" stroke-width="1.1"/>
<rect x="1220.21" y="589.3" width="2.40" height="17.0" fill="#dcdcdc" stroke="#000" stroke-width="1.1"/>
<rect x="1225.01" y="579.5" width="2.40" height="14.7" fill="#dcdcdc" stroke="#000" stroke-width="1.1"/>
<rect x="1229.27" y="578.4" width="3.5" height="1.2" fill="#000"/>
<rect x="1234.62" y="565.3" width="2.40" height="9.4" fill="#dcdcdc" stroke="#000" stroke-width="1.1"/>
<rect x="1238.87" y="564.4" width="3.5" height="24.4" fill="#000"/>
<rect x="1243.67" y="591.3" width="3.5" height="2.5" fill="#000"/>
<rect x="1248.47" y="593.5" width="3.5" height="8.8" fill="#000"/>
<rect x="1253.82" y="591.5" width="2.40" height="8.5" fill="#dcdcdc" stroke="#000" stroke-width="1.1"/>
<rect x="1258.62" y="581.8" width="2.40" height="11.1" fill="#dcdcdc" stroke="#000" stroke-width="1.1"/>
<rect x="1263.42" y="572.4" width="2.40" height="8.5" fill="#dcdcdc" stroke="#000" stroke-width="1.1"/>
<rect x="1268.22" y="562.8" width="2.40" height="8.5" fill="#dcdcdc" stroke="#000" stroke-width="1.1"/>
<rect x="1272.47" y="556.3" width="3.5" height="30.2" fill="#000"/>
<rect x="1277.28" y="585.3" width="3.5" height="12.2" fill="#000"/>
<rect x="1282.63" y="594.0" width="2.40" height="2.9" fill="#dcdcdc" stroke="#000" stroke-width="1.1"/>
<rect x="1287.43" y="574.9" width="2.40" height="17.0" fill="#dcdcdc" stroke="#000" stroke-width="1.1"/>
<rect x="1291.68" y="543.1" width="3.5" height="3.8" fill="#000"/>
<rect x="1297.03" y="530.5" width="2.40" height="12.9" fill="#dcdcdc" stroke="#000" stroke-width="1.1"/>
<rect x="1301.28" y="526.3" width="3.5" height="14.3" fill="#000"/>
<rect x="1306.63" y="497.4" width="2.40" height="43.3" fill="#dcdcdc" stroke="#000" stroke-width="1.1"/>
<rect x="1310.88" y="497.3" width="3.5" height="3.3" fill="#000"/>
<rect x="1316.23" y="483.7" width="2.40" height="18.3" fill="#dcdcdc" stroke="#000" stroke-width="1.1"/>
<rect x="1320.48" y="485.3" width="3.5" height="12.2" fill="#000"/>
<rect x="1325.29" y="495.9" width="3.5" height="1.2" fill="#000"/>
<rect x="1330.09" y="496.4" width="3.5" height="1.2" fill="#000"/>
<rect x="1335.44" y="461.2" width="2.40" height="35.8" fill="#dcdcdc" stroke="#000" stroke-width="1.1"/>
<rect x="1339.69" y="461.3" width="3.5" height="3.1" fill="#000"/>
<rect x="1345.04" y="453.7" width="2.40" height="10.6" fill="#dcdcdc" stroke="#000" stroke-width="1.1"/>
<rect x="1349.84" y="421.2" width="2.40" height="30.6" fill="#dcdcdc" stroke="#000" stroke-width="1.1"/>
<rect x="1354.64" y="406.9" width="2.40" height="13.2" fill="#dcdcdc" stroke="#000" stroke-width="1.1"/>
<rect x="1359.44" y="403.4" width="2.40" height="3.6" fill="#dcdcdc" stroke="#000" stroke-width="1.1"/>
<rect x="1364.24" y="396.2" width="2.40" height="6.1" fill="#dcdcdc" stroke="#000" stroke-width="1.1"/>
<rect x="1368.49" y="395.6" width="3.5" height="10.0" fill="#000"/>
<rect x="1373.85" y="378.9" width="2.40" height="27.0" fill="#dcdcdc" stroke="#000" stroke-width="1.1"/>
<rect x="1378.10" y="375.0" width="3.5" height="13.4" fill="#000"/>
<rect x="1383.45" y="361.1" width="2.40" height="23.7" fill="#dcdcdc" stroke="#000" stroke-width="1.1"/>
<rect x="1387.70" y="362.8" width="3.5" height="11.2" fill="#000"/>
<rect x="1393.05" y="374.4" width="2.40" height="4.1" fill="#dcdcdc" stroke="#000" stroke-width="1.1"/>
<rect x="1397.30" y="379.6" width="3.5" height="16.9" fill="#000"/>
<rect x="1402.10" y="400.3" width="3.5" height="10.3" fill="#000"/>
<rect x="1407.45" y="396.2" width="2.40" height="13.9" fill="#dcdcdc" stroke="#000" stroke-width="1.1"/>
<rect x="1411.70" y="396.9" width="3.5" height="5.0" fill="#000"/>
<rect x="1416.50" y="403.8" width="3.5" height="26.8" fill="#000"/>
<rect x="1421.31" y="430.0" width="3.5" height="1.2" fill="#000"/>
<rect x="1426.66" y="421.2" width="2.40" height="8.9" fill="#dcdcdc" stroke="#000" stroke-width="1.1"/>
<rect x="1431.46" y="401.2" width="2.40" height="19.6" fill="#dcdcdc" stroke="#000" stroke-width="1.1"/>
<rect x="1436.26" y="376.9" width="2.40" height="24.1" fill="#dcdcdc" stroke="#000" stroke-width="1.1"/>
<rect x="1440.51" y="377.0" width="3.5" height="4.0" fill="#000"/>
<rect x="1445.31" y="387.8" width="3.5" height="14.7" fill="#000"/>
<rect x="1450.11" y="404.0" width="3.5" height="2.9" fill="#000"/>
<rect x="1455.46" y="388.9" width="2.40" height="19.5" fill="#dcdcdc" stroke="#000" stroke-width="1.1"/>
<rect x="1460.26" y="366.1" width="2.40" height="20.4" fill="#dcdcdc" stroke="#000" stroke-width="1.1"/>
<rect x="1464.51" y="359.9" width="3.5" height="1.2" fill="#000"/>
<rect x="1469.87" y="332.6" width="2.40" height="27.4" fill="#dcdcdc" stroke="#000" stroke-width="1.1"/>
<rect x="1474.67" y="330.2" width="2.40" height="3.6" fill="#dcdcdc" stroke="#000" stroke-width="1.1"/>
<rect x="1479.47" y="295.2" width="2.40" height="25.6" fill="#dcdcdc" stroke="#000" stroke-width="1.1"/>
<rect x="1484.27" y="292.1" width="2.40" height="3.7" fill="#dcdcdc" stroke="#000" stroke-width="1.1"/>
<rect x="1488.52" y="294.6" width="3.5" height="30.4" fill="#000"/>
<rect x="1493.87" y="298.6" width="2.40" height="27.4" fill="#dcdcdc" stroke="#000" stroke-width="1.1"/>
<rect x="1498.12" y="299.6" width="3.5" height="17.9" fill="#000"/>
<rect x="1503.47" y="314.9" width="2.40" height="2.4" fill="#dcdcdc" stroke="#000" stroke-width="1.1"/>
<rect x="1507.72" y="310.5" width="3.5" height="4.5" fill="#000"/>
<rect x="1512.52" y="315.3" width="3.5" height="3.5" fill="#000"/>
<rect x="1517.88" y="308.4" width="2.40" height="9.9" fill="#dcdcdc" stroke="#000" stroke-width="1.1"/>
<rect x="1522.13" y="308.0" width="3.5" height="6.0" fill="#000"/>
<rect x="1526.93" y="314.3" width="3.5" height="5.3" fill="#000"/>
<rect x="1532.28" y="312.1" width="2.40" height="6.4" fill="#dcdcdc" stroke="#000" stroke-width="1.1"/>
<rect x="1536.53" y="311.5" width="3.5" height="7.3" fill="#000"/>
<rect x="1541.33" y="320.9" width="3.5" height="23.1" fill="#000"/>
<rect x="1546.13" y="345.0" width="3.5" height="24.6" fill="#000"/>
<rect x="1550.93" y="370.5" width="3.5" height="4.5" fill="#000"/>
<rect x="1555.73" y="375.0" width="3.5" height="29.0" fill="#000"/>
<rect x="1560.53" y="402.8" width="3.5" height="21.0" fill="#000"/>
<rect x="1565.34" y="416.9" width="3.5" height="5.0" fill="#000"/>
<rect x="1570.69" y="404.4" width="2.40" height="17.9" fill="#dcdcdc" stroke="#000" stroke-width="1.1"/>
<rect x="1574.94" y="402.8" width="3.5" height="27.5" fill="#000"/>
<rect x="1580.29" y="422.4" width="2.40" height="11.0" fill="#dcdcdc" stroke="#000" stroke-width="1.1"/>
<rect x="1585.09" y="417.9" width="2.40" height="2.6" fill="#dcdcdc" stroke="#000" stroke-width="1.1"/>
<rect x="1589.89" y="408.1" width="2.40" height="10.8" fill="#dcdcdc" stroke="#000" stroke-width="1.1"/>
<rect x="1594.14" y="408.8" width="3.5" height="8.1" fill="#000"/>
<rect x="1599.49" y="412.4" width="2.40" height="3.3" fill="#dcdcdc" stroke="#000" stroke-width="1.1"/>
<rect x="1603.74" y="410.0" width="3.5" height="11.9" fill="#000"/>
<rect x="1608.54" y="421.9" width="3.5" height="15.0" fill="#000"/>
<rect x="1613.35" y="436.3" width="3.5" height="26.8" fill="#000"/>
<rect x="1618.70" y="458.1" width="2.40" height="10.2" fill="#dcdcdc" stroke="#000" stroke-width="1.1"/>
<rect x="1623.50" y="428.1" width="2.40" height="29.5" fill="#dcdcdc" stroke="#000" stroke-width="1.1"/>
<rect x="1627.75" y="429.4" width="3.5" height="1.2" fill="#000"/>
<rect x="1632.55" y="431.3" width="3.5" height="7.5" fill="#000"/>
<rect x="1637.90" y="428.4" width="2.40" height="11.1" fill="#dcdcdc" stroke="#000" stroke-width="1.1"/>
<rect x="1642.70" y="406.9" width="2.40" height="20.7" fill="#dcdcdc" stroke="#000" stroke-width="1.1"/>
<rect x="1646.95" y="407.5" width="3.5" height="22.8" fill="#000"/>
<rect x="1651.75" y="429.0" width="3.5" height="15.8" fill="#000"/>
<rect x="1657.10" y="439.4" width="2.40" height="4.9" fill="#dcdcdc" stroke="#000" stroke-width="1.1"/>
<rect x="1661.36" y="441.3" width="3.5" height="3.5" fill="#000"/>
<rect x="1666.16" y="444.8" width="3.5" height="19.6" fill="#000"/>
<rect x="1670.96" y="464.4" width="3.5" height="2.6" fill="#000"/>
<rect x="1675.76" y="468.8" width="3.5" height="6.2" fill="#000"/>
<rect x="1681.11" y="461.9" width="2.40" height="15.1" fill="#dcdcdc" stroke="#000" stroke-width="1.1"/>
<rect x="1685.36" y="462.5" width="3.5" height="12.5" fill="#000"/>
<rect x="1690.16" y="475.0" width="3.5" height="3.8" fill="#000"/>
<rect x="1694.96" y="465.4" width="3.5" height="1.2" fill="#000"/>
<rect x="1699.76" y="465.6" width="3.5" height="13.8" fill="#000"/>
<rect x="1705.11" y="470.6" width="2.40" height="9.9" fill="#dcdcdc" stroke="#000" stroke-width="1.1"/>
<rect x="1709.91" y="458.7" width="2.40" height="10.8" fill="#dcdcdc" stroke="#000" stroke-width="1.1"/>
<rect x="1714.17" y="458.1" width="3.5" height="8.2" fill="#000"/>
<rect x="1719.52" y="453.7" width="2.40" height="12.1" fill="#dcdcdc" stroke="#000" stroke-width="1.1"/>
<rect x="1723.77" y="454.4" width="3.5" height="15.6" fill="#000"/>
<rect x="1729.12" y="463.1" width="2.40" height="7.4" fill="#dcdcdc" stroke="#000" stroke-width="1.1"/>
<rect x="1733.92" y="455.9" width="2.40" height="8.6" fill="#dcdcdc" stroke="#000" stroke-width="1.1"/>
<rect x="1738.17" y="455.0" width="3.5" height="22.3" fill="#000"/>
<rect x="1742.97" y="477.3" width="3.5" height="5.2" fill="#000"/>
<rect x="1748.32" y="476.2" width="2.40" height="5.8" fill="#dcdcdc" stroke="#000" stroke-width="1.1"/>
<rect x="1753.12" y="470.6" width="2.40" height="4.5" fill="#dcdcdc" stroke="#000" stroke-width="1.1"/>
<rect x="1757.38" y="468.8" width="3.5" height="23.1" fill="#000"/>
<rect x="1762.73" y="477.9" width="2.40" height="13.9" fill="#dcdcdc" stroke="#000" stroke-width="1.1"/>
<rect x="1766.98" y="477.3" width="3.5" height="5.5" fill="#000"/>
<rect x="1771.78" y="481.9" width="3.5" height="13.1" fill="#000"/>
<rect x="1776.58" y="492.5" width="3.5" height="1.9" fill="#000"/>
<rect x="1781.93" y="480.9" width="2.40" height="12.6" fill="#dcdcdc" stroke="#000" stroke-width="1.1"/>
<rect x="1786.18" y="479.0" width="3.5" height="11.6" fill="#000"/>
<rect x="1790.98" y="490.0" width="3.5" height="16.5" fill="#000"/>
<rect x="1796.33" y="495.6" width="2.40" height="10.8" fill="#dcdcdc" stroke="#000" stroke-width="1.1"/>
<rect x="1801.13" y="491.9" width="2.40" height="9.5" fill="#dcdcdc" stroke="#000" stroke-width="1.1"/>
<rect x="1805.38" y="491.3" width="3.5" height="12.7" fill="#000"/>
<rect x="1810.74" y="498.1" width="2.40" height="4.5" fill="#dcdcdc" stroke="#000" stroke-width="1.1"/>
<rect x="1814.99" y="497.0" width="3.5" height="5.5" fill="#000"/>
<rect x="1820.34" y="474.6" width="2.40" height="28.0" fill="#dcdcdc" stroke="#000" stroke-width="1.1"/>
<rect x="1824.59" y="476.9" width="3.5" height="18.7" fill="#000"/>
<rect x="1829.94" y="469.4" width="2.40" height="25.1" fill="#dcdcdc" stroke="#000" stroke-width="1.1"/>
<rect x="1834.74" y="468.6" width="2.40" height="0.9" fill="#dcdcdc" stroke="#000" stroke-width="1.1"/>
<rect x="1838.99" y="472.5" width="3.5" height="21.5" fill="#000"/>
<rect x="1844.34" y="485.9" width="2.40" height="7.1" fill="#dcdcdc" stroke="#000" stroke-width="1.1"/>
<rect x="1848.59" y="485.3" width="3.5" height="10.3" fill="#000"/>
<rect x="1853.39" y="496.3" width="3.5" height="12.5" fill="#000"/>
<rect x="1858.20" y="510.0" width="3.5" height="2.0" fill="#000"/>
<rect x="1863.55" y="497.6" width="2.40" height="15.0" fill="#dcdcdc" stroke="#000" stroke-width="1.1"/>
<rect x="1867.80" y="496.3" width="3.5" height="19.3" fill="#000"/>
<rect x="1873.15" y="506.2" width="2.40" height="7.7" fill="#dcdcdc" stroke="#000" stroke-width="1.1"/>
<rect x="1877.40" y="504.4" width="3.5" height="27.5" fill="#000"/>
<rect x="1882.75" y="526.1" width="2.40" height="4.6" fill="#dcdcdc" stroke="#000" stroke-width="1.1"/>
<rect x="1887.55" y="518.6" width="2.40" height="6.8" fill="#dcdcdc" stroke="#000" stroke-width="1.1"/>
<rect x="1891.80" y="517.5" width="3.5" height="9.0" fill="#000"/>
<rect x="1896.60" y="527.5" width="3.5" height="12.3" fill="#000"/>
<rect x="1901.95" y="534.3" width="2.40" height="4.5" fill="#dcdcdc" stroke="#000" stroke-width="1.1"/>
<rect x="1906.76" y="524.9" width="2.40" height="8.0" fill="#dcdcdc" stroke="#000" stroke-width="1.1"/>
<rect x="1911.56" y="502.9" width="2.40" height="21.6" fill="#dcdcdc" stroke="#000" stroke-width="1.1"/>
<rect x="1915.81" y="503.1" width="3.5" height="14.4" fill="#000"/>
<rect x="1921.16" y="502.9" width="2.40" height="13.9" fill="#dcdcdc" stroke="#000" stroke-width="1.1"/>
<rect x="1925.41" y="501.9" width="3.5" height="25.0" fill="#000"/>
<rect x="1930.76" y="521.8" width="2.40" height="3.9" fill="#dcdcdc" stroke="#000" stroke-width="1.1"/>
<rect x="1935.01" y="521.9" width="3.5" height="4.6" fill="#000"/>
<rect x="1939.81" y="525.9" width="3.5" height="1.2" fill="#000"/>
<rect x="1945.16" y="521.1" width="2.40" height="4.6" fill="#dcdcdc" stroke="#000" stroke-width="1.1"/>
<rect x="1949.96" y="511.6" width="2.40" height="8.9" fill="#dcdcdc" stroke="#000" stroke-width="1.1"/>
<rect x="1954.22" y="508.1" width="3.5" height="8.8" fill="#000"/>
<rect x="1959.57" y="501.2" width="2.40" height="15.8" fill="#dcdcdc" stroke="#000" stroke-width="1.1"/>
<rect x="1963.82" y="501.3" width="3.5" height="2.5" fill="#000"/>
<rect x="1968.62" y="501.9" width="3.5" height="9.1" fill="#000"/>
<rect x="1973.42" y="511.9" width="3.5" height="3.7" fill="#000"/>
<rect x="1978.22" y="515.0" width="3.5" height="11.0" fill="#000"/>
<rect x="1983.57" y="514.9" width="2.40" height="9.8" fill="#dcdcdc" stroke="#000" stroke-width="1.1"/>
<rect x="1987.82" y="514.4" width="3.5" height="25.0" fill="#000"/>
<rect x="1992.62" y="539.0" width="3.5" height="18.5" fill="#000"/>
<rect x="1997.42" y="555.4" width="3.5" height="1.2" fill="#000"/>
<rect x="2002.78" y="525.5" width="2.40" height="34.5" fill="#dcdcdc" stroke="#000" stroke-width="1.1"/>
<rect x="2007.58" y="473.7" width="2.40" height="49.3" fill="#dcdcdc" stroke="#000" stroke-width="1.1"/>
<rect x="2011.83" y="472.5" width="3.5" height="25.6" fill="#000"/>
<rect x="2016.63" y="498.8" width="3.5" height="81.8" fill="#000"/>
<rect x="2021.98" y="507.4" width="2.40" height="72.6" fill="#dcdcdc" stroke="#000" stroke-width="1.1"/>
<rect x="2026.23" y="510.6" width="3.5" height="50.7" fill="#000"/>
<rect x="2031.58" y="542.4" width="2.40" height="18.3" fill="#dcdcdc" stroke="#000" stroke-width="1.1"/>
<rect x="2035.83" y="543.1" width="3.5" height="7.5" fill="#000"/>
<rect x="2040.63" y="551.5" width="3.5" height="7.3" fill="#000"/>
<rect x="2045.98" y="534.0" width="2.40" height="26.0" fill="#dcdcdc" stroke="#000" stroke-width="1.1"/>
<rect x="2050.24" y="534.4" width="3.5" height="21.9" fill="#000"/>
<rect x="2055.04" y="558.8" width="3.5" height="1.2" fill="#000"/>
<rect x="2060.39" y="546.1" width="2.40" height="13.9" fill="#dcdcdc" stroke="#000" stroke-width="1.1"/>
<rect x="2065.19" y="514.0" width="2.40" height="30.4" fill="#dcdcdc" stroke="#000" stroke-width="1.1"/>
<rect x="2069.99" y="482.9" width="2.40" height="28.5" fill="#dcdcdc" stroke="#000" stroke-width="1.1"/>
<rect x="2074.24" y="482.3" width="3.5" height="5.8" fill="#000"/>
<rect x="2079.04" y="491.9" width="3.5" height="10.0" fill="#000"/>
<rect x="2084.39" y="494.6" width="2.40" height="5.5" fill="#dcdcdc" stroke="#000" stroke-width="1.1"/>
<rect x="2089.19" y="491.2" width="2.40" height="2.7" fill="#dcdcdc" stroke="#000" stroke-width="1.1"/>
<rect x="2094.00" y="481.2" width="2.40" height="7.1" fill="#dcdcdc" stroke="#000" stroke-width="1.1"/>
<rect x="2098.80" y="460.9" width="2.40" height="18.6" fill="#dcdcdc" stroke="#000" stroke-width="1.1"/>
<rect x="2103.60" y="422.4" width="2.40" height="40.8" fill="#dcdcdc" stroke="#000" stroke-width="1.1"/>
<rect x="2108.40" y="403.1" width="2.40" height="20.8" fill="#dcdcdc" stroke="#000" stroke-width="1.1"/>
<rect x="2112.65" y="401.3" width="3.5" height="1.2" fill="#000"/>
<rect x="2118.00" y="393.1" width="2.40" height="7.0" fill="#dcdcdc" stroke="#000" stroke-width="1.1"/>
<rect x="2122.80" y="389.1" width="2.40" height="3.4" fill="#dcdcdc" stroke="#000" stroke-width="1.1"/>
<line x1="6.199999999999999" y1="352.9" x2="2481.5" y2="352.9" stroke="#ff0000" stroke-width="2.5"/>
<line x1="6.199999999999999" y1="370.8" x2="2481.5" y2="370.8" stroke="#ff0000" stroke-width="2.5"/>
<line x1="6.199999999999999" y1="412.9" x2="2481.5" y2="412.9" stroke="#ff0000" stroke-width="2.5"/>
<line x1="6.199999999999999" y1="467.0" x2="2481.5" y2="467.0" stroke="#ff0000" stroke-width="2.5"/>
<line x1="6.199999999999999" y1="471.9" x2="2481.5" y2="471.9" stroke="#ff0000" stroke-width="2.5"/>
<line x1="6.199999999999999" y1="495.8" x2="2481.5" y2="495.8" stroke="#ff0000" stroke-width="2.5"/>
<line x1="6.199999999999999" y1="381.8" x2="2481.5" y2="381.8" stroke="#008000" stroke-width="2.5"/>
<line x1="2101.3" y1="469.5" x2="2118" y2="469.5" stroke="#000080" stroke-width="2.4"/>
<clipPath id="cm"><rect x="5.6" y="7.0" width="2475.9" height="646.5"/></clipPath>
<line x1="2028.0" y1="545.6" x2="2298.3" y2="2.0" stroke="#ff0000" stroke-width="3.6" clip-path="url(#cm)"/>
<line x1="2033.0" y1="550.0" x2="2305.1" y2="2.0" stroke="#ff0000" stroke-width="3.6" clip-path="url(#cm)"/>
<line x1="2057.0" y1="567.5" x2="2337.8" y2="2.0" stroke="#ff0000" stroke-width="3.6" clip-path="url(#cm)"/>
<polyline points="6.8,926.2 11.6,921.0 16.4,910.7 21.2,900.0 26.0,927.0 30.8,928.2 35.6,910.7 40.4,905.9 45.2,929.5 50.0,946.0 54.8,954.9 59.6,979.0 64.4,985.9 69.2,973.0 74.0,952.8 78.8,959.2 83.6,944.2 88.4,978.6 93.2,981.6 98.0,989.3 102.8,960.1 107.6,951.1 112.4,961.0 117.2,954.9 122.0,924.0 126.8,915.0 131.6,881.8 136.4,846.3 141.2,868.3 146.0,885.6 150.8,865.9 155.6,876.7 160.4,868.8 165.2,879.9 170.0,896.2 174.8,913.1 179.6,908.1 184.4,875.4 189.2,873.7 194.0,883.6 198.8,852.9 203.6,850.5 208.4,846.9 213.2,874.0 218.0,840.6 222.8,845.0 227.6,829.0 232.4,811.3 237.2,859.9 242.0,859.4 246.8,885.9 251.6,908.4 256.4,911.4 261.2,900.5 266.0,917.0 270.8,935.1 275.6,908.3 280.4,890.5 285.2,899.2 290.0,902.6 294.8,889.8 299.6,909.5 304.4,931.4 309.2,915.4 314.0,904.2 318.8,871.4 323.6,854.7 328.4,890.8 333.2,906.6 338.0,930.2 342.8,895.6 347.6,886.5 352.4,869.4 357.2,871.0 362.0,862.6 366.8,866.0 371.6,857.4 376.4,885.7 381.2,893.0 386.0,875.2 390.8,845.1 395.6,845.5 400.4,841.7 405.2,843.4 410.0,824.6 414.8,810.2 419.6,875.5 424.4,893.2 429.2,875.1 434.0,866.4 438.9,862.7 443.7,846.9 448.5,842.4 453.3,857.6 458.1,845.7 462.9,879.4 467.7,866.4 472.5,889.1 477.3,868.6 482.1,901.9 486.9,879.1 491.7,870.8 496.5,864.9 501.3,855.5 506.1,845.5 510.9,840.5 515.7,865.5 520.5,874.6 525.3,884.3 530.1,853.7 534.9,870.1 539.7,865.7 544.5,859.6 549.3,886.6 554.1,899.4 558.9,911.7 563.7,912.3 568.5,907.9 573.3,930.1 578.1,913.3 582.9,902.2 587.7,916.5 592.5,913.9 597.3,931.3 602.1,951.4 606.9,949.5 611.7,953.2 616.5,956.5 621.3,987.7 626.1,1003.2 630.9,1025.8 635.7,1023.2 640.5,1037.1 645.3,1050.1 650.1,1061.9 654.9,1026.6 659.7,987.2 664.5,998.4 669.3,1013.5 674.1,1019.7 678.9,1001.3 683.7,1015.0 688.5,998.0 693.3,1014.4 698.1,972.9 702.9,996.8 707.7,1001.8 712.5,1016.9 717.3,1028.9 722.1,1045.8 726.9,1062.1 731.7,1045.7 736.5,1040.3 741.3,1025.5 746.1,1024.1 750.9,1036.8 755.7,1055.6 760.5,1068.7 765.3,1003.0 770.1,999.5 774.9,986.1 779.7,1009.9 784.5,981.0 789.3,970.9 794.1,930.0 798.9,930.3 803.7,901.8 808.5,940.4 813.3,942.2 818.1,927.4 822.9,911.1 827.7,900.4 832.5,919.5 837.3,925.6 842.1,920.2 846.9,950.9 851.7,932.0 856.5,931.2 861.3,933.6 866.1,913.0 870.9,881.1 875.7,904.3 880.5,907.9 885.3,885.7 890.1,890.8 894.9,903.1 899.7,903.1 904.5,880.9 909.3,880.9 914.1,929.0 919.0,928.5 923.8,956.9 928.6,952.0 933.4,964.5 938.2,970.5 943.0,924.2 947.8,907.8 952.6,922.8 957.4,911.4 962.2,922.9 967.0,912.2 971.8,914.4 976.6,930.6 981.4,924.0 986.2,874.5 991.0,862.4 995.8,882.6 1000.6,911.5 1005.4,898.6 1010.2,880.8 1015.0,865.5 1019.8,881.6 1024.6,854.7 1029.4,855.1 1034.2,872.3 1039.0,882.8 1043.8,853.1 1048.6,862.4 1053.4,877.9 1058.2,890.7 1063.0,908.1 1067.8,872.0 1072.6,890.0 1077.4,885.8 1082.2,909.6 1087.0,906.1 1091.8,918.8 1096.6,921.4 1101.4,930.2 1106.2,894.7 1111.0,909.0 1115.8,895.4 1120.6,870.5 1125.4,893.8 1130.2,900.9 1135.0,887.2 1139.8,900.3 1144.6,889.0 1149.4,887.7 1154.2,891.3 1159.0,934.4 1163.8,947.3 1168.6,925.3 1173.4,897.6 1178.2,940.0 1183.0,969.3 1187.8,968.7 1192.6,955.3 1197.4,967.0 1202.2,978.8 1207.0,976.8 1211.8,960.4 1216.6,960.4 1221.4,936.5 1226.2,923.9 1231.0,923.9 1235.8,905.2 1240.6,931.7 1245.4,936.8 1250.2,945.6 1255.0,928.7 1259.8,914.8 1264.6,901.8 1269.4,888.8 1274.2,920.3 1279.0,932.9 1283.8,926.8 1288.6,899.3 1293.4,866.2 1298.2,848.9 1303.0,864.3 1307.8,824.9 1312.6,830.3 1317.4,816.5 1322.2,837.9 1327.0,837.0 1331.8,837.8 1336.6,806.9 1341.4,813.2 1346.2,804.3 1351.0,782.3 1355.8,774.1 1360.6,772.1 1365.4,767.9 1370.2,787.2 1375.0,770.1 1379.8,788.5 1384.6,771.5 1389.4,794.9 1394.2,794.8 1399.0,832.7 1403.9,853.7 1408.7,839.4 1413.5,849.0 1418.3,888.2 1423.1,888.2 1427.9,876.2 1432.7,854.3 1437.5,831.6 1442.3,838.8 1447.1,870.1 1451.9,876.1 1456.7,856.0 1461.5,834.3 1466.3,829.9 1471.1,807.0 1475.9,805.2 1480.7,782.0 1485.5,780.1 1490.3,833.0 1495.1,813.2 1499.9,839.5 1504.7,837.0 1509.5,838.0 1514.3,843.7 1519.1,833.3 1523.9,843.4 1528.7,852.5 1533.5,843.6 1538.3,856.2 1543.1,894.9 1547.9,926.7 1552.7,932.7 1557.5,962.1 1562.3,978.8 1567.1,975.7 1571.9,946.9 1576.7,970.9 1581.5,958.1 1586.3,951.0 1591.1,936.0 1595.9,946.2 1600.7,938.1 1605.5,949.5 1610.3,965.4 1615.1,989.0 1619.9,979.0 1624.7,931.0 1629.5,934.4 1634.3,943.5 1639.1,926.2 1643.9,895.9 1648.7,924.9 1653.5,940.3 1658.3,931.5 1663.1,938.3 1667.9,958.8 1672.7,961.4 1677.5,969.4 1682.3,945.3 1687.1,960.2 1691.9,964.2 1696.7,941.1 1701.5,956.6 1706.3,939.9 1711.1,919.9 1715.9,930.8 1720.7,909.1 1725.5,931.8 1730.3,919.4 1735.1,907.8 1739.9,937.3 1744.7,943.7 1749.5,931.3 1754.3,921.4 1759.1,950.2 1763.9,924.8 1768.7,932.1 1773.5,947.6 1778.3,946.5 1783.1,920.2 1787.9,934.8 1792.7,955.2 1797.5,933.7 1802.3,926.9 1807.1,944.5 1811.9,932.0 1816.7,939.2 1821.5,889.6 1826.3,920.9 1831.1,883.1 1835.9,882.0 1840.7,917.7 1845.5,905.3 1850.3,918.6 1855.1,934.8 1859.9,938.6 1864.7,914.3 1869.5,937.5 1874.3,921.7 1879.2,951.7 1884.0,941.6 1888.8,929.6 1893.6,939.7 1898.4,954.9 1903.2,944.3 1908.0,928.0 1912.8,894.0 1917.6,914.9 1922.4,893.3 1927.2,924.6 1932.0,916.5 1936.8,923.1 1941.6,923.1 1946.4,913.2 1951.2,897.5 1956.0,906.9 1960.8,881.0 1965.6,886.6 1970.4,899.1 1975.2,907.0 1980.0,924.2 1984.8,902.4 1989.6,940.1 1994.4,962.1 1999.2,959.1 2004.0,905.3 2008.8,845.0 2013.6,878.0 2018.4,952.3 2023.2,889.0 2028.0,925.4 2032.8,911.2 2037.6,916.9 2042.4,922.4 2047.2,902.3 2052.0,918.5 2056.8,921.1 2061.6,908.7 2066.4,883.1 2071.2,861.4 2076.0,866.7 2080.8,879.3 2085.6,873.1 2090.4,870.4 2095.2,862.2 2100.0,846.3 2104.8,820.5 2109.6,809.3 2114.4,809.3 2119.2,803.3 2124.0,800.8" fill="none" stroke="#1e90ff" stroke-width="1.05" stroke-linejoin="round"/>
<line x1="2025.8" y1="735.6" x2="2076" y2="774.5" stroke="#ff0000" stroke-width="3.9" stroke-linecap="round"/>
<polygon points="2090.2,785.6 2078.4,768.8 2071.2,778.6" fill="#ff0000"/>
<rect x="5.0" y="6.35" width="1.25" height="1133.8" fill="#000"/>
<rect x="5.0" y="6.35" width="2477.1" height="1.3" fill="#1a1a1a"/>
<rect x="2480.9" y="6.35" width="1.25" height="647.75" fill="#000"/>
<rect x="2480.9" y="656.2" width="1.25" height="483.94999999999993" fill="#000"/>
<rect x="2481.5" y="657.7" width="2.2" height="1.2" fill="#000"/>
<rect x="0" y="70" width="1.3" height="7" fill="#3c8edc"/>
<rect x="0" y="77" width="1.3" height="1.1" fill="#222"/>
<rect x="5.0" y="652.9" width="2477.1" height="1.2" fill="#000"/>
<rect x="6.199999999999999" y="654.2" width="2474.7000000000003" height="2.6" fill="#808080"/>
<rect x="5.0" y="1138.9" width="2477.1" height="1.25" fill="#000"/>
<polygon points="2126.3,7.8 2140.5,7.8 2133.4,15.2" fill="#c0c0c0"/>
<polygon points="9.4,15.7 20.3,15.7 14.85,22.6" fill="#000"/>
<text x="28.1" y="24.3" font-family="Liberation Sans, sans-serif" font-size="14.6" fill="#000" text-anchor="start" textLength="105.9" lengthAdjust="spacingAndGlyphs">EURUSD,Weekly</text>
<text x="144.6" y="24.3" font-family="Liberation Sans, sans-serif" font-size="14.6" fill="#000" text-anchor="start" textLength="53.4" lengthAdjust="spacingAndGlyphs">1.18390</text>
<text x="204.75" y="24.3" font-family="Liberation Sans, sans-serif" font-size="14.6" fill="#000" text-anchor="start" textLength="53.4" lengthAdjust="spacingAndGlyphs">1.18672</text>
<text x="264.9" y="24.3" font-family="Liberation Sans, sans-serif" font-size="14.6" fill="#000" text-anchor="start" textLength="53.4" lengthAdjust="spacingAndGlyphs">1.18343</text>
<text x="325.04999999999995" y="24.3" font-family="Liberation Sans, sans-serif" font-size="14.6" fill="#000" text-anchor="start" textLength="53.4" lengthAdjust="spacingAndGlyphs">1.18615</text>
<text x="11.3" y="674.5" font-family="Liberation Sans, sans-serif" font-size="14.6" fill="#000" text-anchor="start" textLength="108.7" lengthAdjust="spacingAndGlyphs">RSI(14) 70.4234</text>
<rect x="6.0" y="1139.5" width="1.2" height="4.4" fill="#000"/>
<text x="5.1" y="1158.2" font-family="Liberation Sans, sans-serif" font-size="14.6" fill="#000" text-anchor="start" textLength="74" lengthAdjust="spacingAndGlyphs">4 Mar 2012</text>
<rect x="121.2" y="1139.5" width="1.2" height="4.4" fill="#000"/>
<text x="120.3" y="1158.2" font-family="Liberation Sans, sans-serif" font-size="14.6" fill="#000" text-anchor="start" textLength="85" lengthAdjust="spacingAndGlyphs">19 Aug 2012</text>
<rect x="236.4" y="1139.5" width="1.2" height="4.4" fill="#000"/>
<text x="235.5" y="1158.2" font-family="Liberation Sans, sans-serif" font-size="14.6" fill="#000" text-anchor="start" textLength="74.4" lengthAdjust="spacingAndGlyphs">3 Feb 2013</text>
<rect x="351.6" y="1139.5" width="1.2" height="4.4" fill="#000"/>
<text x="350.7" y="1158.2" font-family="Liberation Sans, sans-serif" font-size="14.6" fill="#000" text-anchor="start" textLength="75.5" lengthAdjust="spacingAndGlyphs">21 Jul 2013</text>
<rect x="466.9" y="1139.5" width="1.2" height="4.4" fill="#000"/>
<text x="466.0" y="1158.2" font-family="Liberation Sans, sans-serif" font-size="14.6" fill="#000" text-anchor="start" textLength="71.3" lengthAdjust="spacingAndGlyphs">5 Jan 2014</text>
<rect x="582.1" y="1139.5" width="1.2" height="4.4" fill="#000"/>
<text x="581.2" y="1158.2" font-family="Liberation Sans, sans-serif" font-size="14.6" fill="#000" text-anchor="start" textLength="81.3" lengthAdjust="spacingAndGlyphs">22 Jun 2014</text>
<rect x="697.3" y="1139.5" width="1.2" height="4.4" fill="#000"/>
<text x="696.4" y="1158.2" font-family="Liberation Sans, sans-serif" font-size="14.6" fill="#000" text-anchor="start" textLength="75" lengthAdjust="spacingAndGlyphs">7 Dec 2014</text>
<rect x="812.5" y="1139.5" width="1.2" height="4.4" fill="#000"/>
<text x="811.6" y="1158.2" font-family="Liberation Sans, sans-serif" font-size="14.6" fill="#000" text-anchor="start" textLength="85" lengthAdjust="spacingAndGlyphs">24 May 2015</text>
<rect x="927.8" y="1139.5" width="1.2" height="4.4" fill="#000"/>
<text x="926.9" y="1158.2" font-family="Liberation Sans, sans-serif" font-size="14.6" fill="#000" text-anchor="start" textLength="76.3" lengthAdjust="spacingAndGlyphs">8 Nov 2015</text>
<rect x="1043.0" y="1139.5" width="1.2" height="4.4" fill="#000"/>
<text x="1042.1" y="1158.2" font-family="Liberation Sans, sans-serif" font-size="14.6" fill="#000" text-anchor="start" textLength="81.8" lengthAdjust="spacingAndGlyphs">24 Apr 2016</text>
<rect x="1158.2" y="1139.5" width="1.2" height="4.4" fill="#000"/>
<text x="1157.3" y="1158.2" font-family="Liberation Sans, sans-serif" font-size="14.6" fill="#000" text-anchor="start" textLength="74.5" lengthAdjust="spacingAndGlyphs">9 Oct 2016</text>
<rect x="1273.4" y="1139.5" width="1.2" height="4.4" fill="#000"/>
<text x="1272.5" y="1158.2" font-family="Liberation Sans, sans-serif" font-size="14.6" fill="#000" text-anchor="start" textLength="81.3" lengthAdjust="spacingAndGlyphs">26 Mar 2017</text>
<rect x="1388.6" y="1139.5" width="1.2" height="4.4" fill="#000"/>
<text x="1387.7" y="1158.2" font-family="Liberation Sans, sans-serif" font-size="14.6" fill="#000" text-anchor="start" textLength="83.3" lengthAdjust="spacingAndGlyphs">10 Sep 2017</text>
<rect x="1503.9" y="1139.5" width="1.2" height="4.4" fill="#000"/>
<text x="1503.0" y="1158.2" font-family="Liberation Sans, sans-serif" font-size="14.6" fill="#000" text-anchor="start" textLength="83.3" lengthAdjust="spacingAndGlyphs">25 Feb 2018</text>
<rect x="1619.1" y="1139.5" width="1.2" height="4.4" fill="#000"/>
<text x="1618.2" y="1158.2" font-family="Liberation Sans, sans-serif" font-size="14.6" fill="#000" text-anchor="start" textLength="85.5" lengthAdjust="spacingAndGlyphs">12 Aug 2018</text>
<rect x="1734.3" y="1139.5" width="1.2" height="4.4" fill="#000"/>
<text x="1733.4" y="1158.2" font-family="Liberation Sans, sans-serif" font-size="14.6" fill="#000" text-anchor="start" textLength="81" lengthAdjust="spacingAndGlyphs">27 Jan 2019</text>
<rect x="1849.5" y="1139.5" width="1.2" height="4.4" fill="#000"/>
<text x="1848.6" y="1158.2" font-family="Liberation Sans, sans-serif" font-size="14.6" fill="#000" text-anchor="start" textLength="75.8" lengthAdjust="spacingAndGlyphs">14 Jul 2019</text>
<rect x="1964.8" y="1139.5" width="1.2" height="4.4" fill="#000"/>
<text x="1963.9" y="1158.2" font-family="Liberation Sans, sans-serif" font-size="14.6" fill="#000" text-anchor="start" textLength="84.3" lengthAdjust="spacingAndGlyphs">29 Dec 2019</text>
<rect x="2080.0" y="1139.5" width="1.2" height="4.4" fill="#000"/>
<text x="2079.1" y="1158.2" font-family="Liberation Sans, sans-serif" font-size="14.6" fill="#000" text-anchor="start" textLength="81.3" lengthAdjust="spacingAndGlyphs">14 Jun 2020</text>
<rect x="2481.5" y="42.3" width="3.2" height="1.2" fill="#000"/>
<text x="2490" y="48.3" font-family="Liberation Sans, sans-serif" font-size="14.6" fill="#000" text-anchor="start" textLength="53.4" lengthAdjust="spacingAndGlyphs">1.39650</text>
<rect x="2481.5" y="101.0" width="3.2" height="1.2" fill="#000"/>
<text x="2490" y="107.0" font-family="Liberation Sans, sans-serif" font-size="14.6" fill="#000" text-anchor="start" textLength="53.4" lengthAdjust="spacingAndGlyphs">1.36080</text>
<rect x="2481.5" y="160.0" width="3.2" height="1.2" fill="#000"/>
<text x="2490" y="166.0" font-family="Liberation Sans, sans-serif" font-size="14.6" fill="#000" text-anchor="start" textLength="53.4" lengthAdjust="spacingAndGlyphs">1.32510</text>
<rect x="2481.5" y="218.6" width="3.2" height="1.2" fill="#000"/>
<text x="2490" y="224.6" font-family="Liberation Sans, sans-serif" font-size="14.6" fill="#000" text-anchor="start" textLength="53.4" lengthAdjust="spacingAndGlyphs">1.28940</text>
<rect x="2481.5" y="277.4" width="3.2" height="1.2" fill="#000"/>
<text x="2490" y="283.4" font-family="Liberation Sans, sans-serif" font-size="14.6" fill="#000" text-anchor="start" textLength="53.4" lengthAdjust="spacingAndGlyphs">1.25370</text>
<rect x="2481.5" y="336.09999999999997" width="3.2" height="1.2" fill="#000"/>
<text x="2490" y="342.09999999999997" font-family="Liberation Sans, sans-serif" font-size="14.6" fill="#000" text-anchor="start" textLength="53.4" lengthAdjust="spacingAndGlyphs">1.21730</text>
<rect x="2481.5" y="394.79999999999995" width="3.2" height="1.2" fill="#000"/>
<text x="2490" y="400.79999999999995" font-family="Liberation Sans, sans-serif" font-size="14.6" fill="#000" text-anchor="start" textLength="53.4" lengthAdjust="spacingAndGlyphs">1.18100</text>
<rect x="2481.5" y="453.7" width="3.2" height="1.2" fill="#000"/>
<text x="2490" y="459.7" font-family="Liberation Sans, sans-serif" font-size="14.6" fill="#000" text-anchor="start" textLength="53.4" lengthAdjust="spacingAndGlyphs">1.14590</text>
<rect x="2481.5" y="512.6" width="3.2" height="1.2" fill="#000"/>
<text x="2490" y="518.6" font-family="Liberation Sans, sans-serif" font-size="14.6" fill="#000" text-anchor="start" textLength="53.4" lengthAdjust="spacingAndGlyphs">1.11020</text>
<rect x="2481.5" y="571.4" width="3.2" height="1.2" fill="#000"/>
<text x="2490" y="577.4" font-family="Liberation Sans, sans-serif" font-size="14.6" fill="#000" text-anchor="start" textLength="53.4" lengthAdjust="spacingAndGlyphs">1.07450</text>
<rect x="2481.5" y="630.1" width="3.2" height="1.2" fill="#000"/>
<text x="2490" y="636.1" font-family="Liberation Sans, sans-serif" font-size="14.6" fill="#000" text-anchor="start" textLength="53.4" lengthAdjust="spacingAndGlyphs">1.03810</text>
<text x="2486.2" y="672.3" font-family="Liberation Sans, sans-serif" font-size="14.6" fill="#000" text-anchor="start" textLength="23.8" lengthAdjust="spacingAndGlyphs">100</text>
<text x="2484.3" y="807.9" font-family="Liberation Sans, sans-serif" font-size="14.6" fill="#000" text-anchor="start" textLength="16.3" lengthAdjust="spacingAndGlyphs">70</text>
<text x="2484.6" y="999.7" font-family="Liberation Sans, sans-serif" font-size="14.6" fill="#000" text-anchor="start" textLength="16.3" lengthAdjust="spacingAndGlyphs">30</text>
<text x="2485.9" y="1135.4" font-family="Liberation Sans, sans-serif" font-size="14.6" fill="#000" text-anchor="start" textLength="7.6" lengthAdjust="spacingAndGlyphs">0</text>
<rect x="2483.2" y="345.9" width="67" height="16.6" fill="#ff0000"/>
<text x="2490" y="359.9" font-family="Liberation Sans, sans-serif" font-size="14.6" fill="#fff" text-anchor="start" textLength="53.4" lengthAdjust="spacingAndGlyphs">1.20700</text>
<rect x="2483.2" y="363.8" width="67" height="16.6" fill="#ff0000"/>
<text x="2490" y="377.8" font-family="Liberation Sans, sans-serif" font-size="14.6" fill="#fff" text-anchor="start" textLength="53.4" lengthAdjust="spacingAndGlyphs">1.19600</text>
<rect x="2481.5" y="381.4" width="68.7" height="14.4" fill="#000"/>
<text x="2490" y="395.4" font-family="Liberation Sans, sans-serif" font-size="14.6" fill="#fff" text-anchor="start" textLength="53.4" lengthAdjust="spacingAndGlyphs">1.18615</text>
<rect x="2483.2" y="374.8" width="67" height="16.6" fill="#008000"/>
<text x="2490" y="388.8" font-family="Liberation Sans, sans-serif" font-size="14.6" fill="#fff" text-anchor="start" textLength="53.4" lengthAdjust="spacingAndGlyphs">1.19000</text>
<rect x="2483.2" y="405.9" width="67" height="16.6" fill="#ff0000"/>
<text x="2490" y="419.9" font-family="Liberation Sans, sans-serif" font-size="14.6" fill="#fff" text-anchor="start" textLength="53.4" lengthAdjust="spacingAndGlyphs">1.17100</text>
<rect x="2483.2" y="460.0" width="67" height="16.6" fill="#ff0000"/>
<text x="2490" y="474.0" font-family="Liberation Sans, sans-serif" font-size="14.6" fill="#fff" text-anchor="start" textLength="53.4" lengthAdjust="spacingAndGlyphs">1.13600</text>
<rect x="2483.2" y="464.9" width="67" height="16.6" fill="#ff0000"/>
<text x="2490" y="478.9" font-family="Liberation Sans, sans-serif" font-size="14.6" fill="#fff" text-anchor="start" textLength="53.4" lengthAdjust="spacingAndGlyphs">1.13500</text>
<rect x="2483.2" y="488.8" width="67" height="16.6" fill="#ff0000"/>
<text x="2490" y="502.8" font-family="Liberation Sans, sans-serif" font-size="14.6" fill="#fff" text-anchor="start" textLength="53.4" lengthAdjust="spacingAndGlyphs">1.12000</text>
</svg>
</body></html>
